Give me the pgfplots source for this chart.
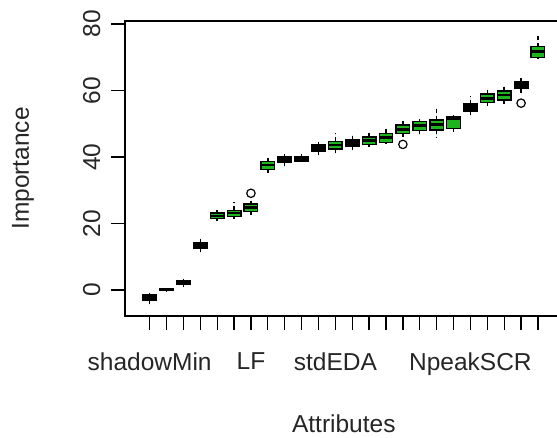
\documentclass[border=0pt]{standalone}
\usepackage{fontspec}
\setmainfont{Liberation Sans}
\usepackage{pgfplots}
\pgfplotsset{compat=1.18}
\usepgfplotslibrary{statistics}
\definecolor{bgreen}{HTML}{1DB51D}

% R draws whiskers dashed and staples solid
\pgfplotsset{
  /pgfplots/boxplot/draw/whisker/.code 2 args={%
    \draw[/pgfplots/boxplot/every whisker/.try, dash pattern=on 4pt off 3pt]
      (boxplot cs:#1) -- (boxplot cs:#2);
    \draw[/pgfplots/boxplot/every whisker/.try, solid]
      (boxplot whisker cs:#1,0) -- (boxplot whisker cs:#1,1);
  },
  rbox/.style={boxplot/draw direction=y,
    boxplot/box extend=0.8, boxplot/whisker extend=0.45,
    line width=1.4pt, draw=black,
    boxplot/every median/.style={line width=2.6pt},
    mark=o, mark size=4.2pt, mark options={solid, line width=1.2pt, draw=black}},
  blk/.style={rbox, fill=black},
  grn/.style={rbox, fill=bgreen},
}

\begin{document}
\begin{tikzpicture}
\useasboundingbox (-125pt,-121pt) rectangle (432pt,316pt);
\begin{axis}[
    scale only axis, width=437.6pt, height=295pt,
    xmin=-0.46, xmax=25.46, ymin=-7.8, ymax=80.9,
    axis line style={line width=1.3pt},
    tick style={line width=1.3pt, black},
    tick align=outside, major tick length=14pt,
    tick pos=left,
    xtick={1,...,24},
    xticklabels={shadowMin,{},{},{},{},{},LF,{},{},{},{},stdEDA,{},{},{},{},{},{},{},NpeakSCR,{},{},{},{}},
    ytick={0,20,40,60,80},
    /pgf/number format/assume math mode=true,
    ticklabel style={font=\fontsize{24.5}{28}\selectfont, text=black!85},
    label style={font=\fontsize{24.5}{28}\selectfont, text=black!85},
    yticklabel style={rotate=90, anchor=south},
    xticklabel shift=19pt, yticklabel shift=7pt,
    xlabel={Attributes}, ylabel={Importance},
    xlabel style={at={(axis description cs:0.5,0)}, anchor=base, yshift=-116pt},
    ylabel style={at={([xshift=-96pt]axis description cs:0,0.5)}, anchor=base},
]
% position, lower whisker, lower quartile, median, upper quartile, upper whisker
\addplot[blk, boxplot prepared={draw position=1, lower whisker=-4.4, lower quartile=-3.0, median=-2.2, upper quartile=-1.4, upper whisker=-0.8}] coordinates {};
\addplot[blk, boxplot prepared={draw position=2, lower whisker=-0.3, lower quartile=-0.2, median=0.2, upper quartile=0.5, upper whisker=0.6}] coordinates {};
\addplot[blk, boxplot prepared={draw position=3, lower whisker=0.8, lower quartile=1.6, median=2.2, upper quartile=2.8, upper whisker=3.4}] coordinates {};
\addplot[blk, boxplot prepared={draw position=4, lower whisker=11.2, lower quartile=12.6, median=13.5, upper quartile=14.3, upper whisker=15.5}] coordinates {};
\addplot[grn, boxplot prepared={draw position=5, lower whisker=20.9, lower quartile=21.5, median=22.3, upper quartile=23.2, upper whisker=24.0}] coordinates {};
\addplot[grn, boxplot prepared={draw position=6, lower whisker=21.3, lower quartile=22.2, median=23.2, upper quartile=24.0, upper whisker=26.5}] coordinates {};
\addplot[grn, boxplot prepared={draw position=7, lower whisker=22.2, lower quartile=23.7, median=24.8, upper quartile=25.9, upper whisker=26.9}] table[row sep=\\, y index=0] {y\\ 29.1\\};
\addplot[grn, boxplot prepared={draw position=8, lower whisker=35.1, lower quartile=36.3, median=37.6, upper quartile=38.7, upper whisker=39.6}] coordinates {};
\addplot[blk, boxplot prepared={draw position=9, lower whisker=37.1, lower quartile=38.5, median=39.3, upper quartile=40.2, upper whisker=40.9}] coordinates {};
\addplot[blk, boxplot prepared={draw position=10, lower whisker=38.4, lower quartile=38.8, median=39.6, upper quartile=40.2, upper whisker=40.9}] coordinates {};
\addplot[blk, boxplot prepared={draw position=11, lower whisker=40.5, lower quartile=41.7, median=42.8, upper quartile=43.6, upper whisker=44.6}] coordinates {};
\addplot[grn, boxplot prepared={draw position=12, lower whisker=40.8, lower quartile=42.4, median=43.6, upper quartile=44.7, upper whisker=47.1}] coordinates {};
\addplot[blk, boxplot prepared={draw position=13, lower whisker=42.1, lower quartile=43.3, median=44.3, upper quartile=45.2, upper whisker=46.6}] coordinates {};
\addplot[grn, boxplot prepared={draw position=14, lower whisker=43.0, lower quartile=43.7, median=44.9, upper quartile=46.0, upper whisker=47.6}] coordinates {};
\addplot[grn, boxplot prepared={draw position=15, lower whisker=44.0, lower quartile=44.4, median=45.9, upper quartile=47.1, upper whisker=48.7}] coordinates {};
\addplot[grn, boxplot prepared={draw position=16, lower whisker=46.1, lower quartile=47.1, median=48.3, upper quartile=49.6, upper whisker=51.1}] table[row sep=\\, y index=0] {y\\ 43.8\\};
\addplot[grn, boxplot prepared={draw position=17, lower whisker=46.7, lower quartile=48.0, median=49.5, upper quartile=50.7, upper whisker=51.3}] coordinates {};
\addplot[grn, boxplot prepared={draw position=18, lower whisker=45.6, lower quartile=48.1, median=49.8, upper quartile=51.1, upper whisker=54.7}] coordinates {};
\addplot[grn, boxplot prepared={draw position=19, lower whisker=47.1, lower quartile=48.6, median=51.6, upper quartile=52.2, upper whisker=52.6}] coordinates {};
\addplot[blk, boxplot prepared={draw position=20, lower whisker=52.3, lower quartile=53.7, median=54.8, upper quartile=56.0, upper whisker=58.3}] coordinates {};
\addplot[grn, boxplot prepared={draw position=21, lower whisker=55.3, lower quartile=56.4, median=57.6, upper quartile=59.0, upper whisker=60.7}] coordinates {};
\addplot[grn, boxplot prepared={draw position=22, lower whisker=56.0, lower quartile=57.1, median=58.6, upper quartile=59.9, upper whisker=61.8}] coordinates {};
\addplot[blk, boxplot prepared={draw position=23, lower whisker=58.8, lower quartile=60.6, median=61.8, upper quartile=62.6, upper whisker=63.7}] table[row sep=\\, y index=0] {y\\ 56.2\\};
\addplot[grn, boxplot prepared={draw position=24, lower whisker=69.4, lower quartile=70.0, median=71.7, upper quartile=73.2, upper whisker=77.2}] coordinates {};
\end{axis}
\end{tikzpicture}
\end{document}
